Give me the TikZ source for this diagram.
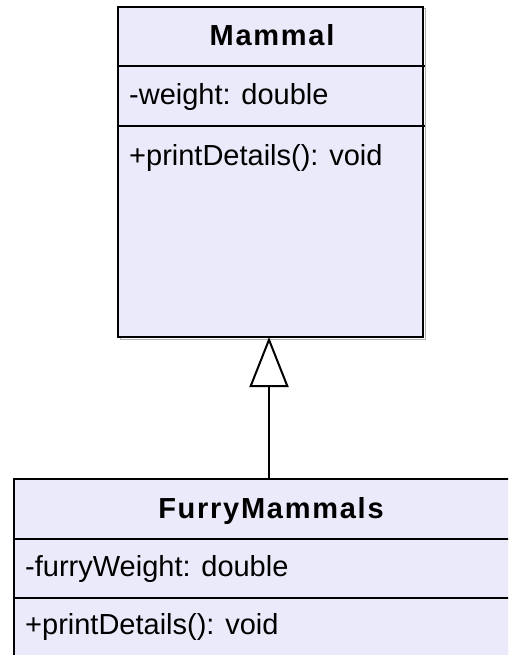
\documentclass[tikz,border=0pt]{standalone}
\usepackage{fontspec}
\setmainfont{Liberation Sans}
\usetikzlibrary{arrows.meta}
\definecolor{classfill}{RGB}{234,234,250}
\tikzset{
  classbox/.style={draw=black, fill=classfill, line width=2pt, rectangle, inner sep=0pt},
  shadowbox/.style={draw=black!30, line width=1pt},
  sepline/.style={draw=black, line width=2pt},
  member/.style={anchor=base west, inner sep=0pt, font=\fontsize{29}{35}\selectfont},
  title/.style={anchor=base, inner sep=0pt, font=\fontsize{29}{35}\selectfont\bfseries\addfontfeature{LetterSpace=6}},
  inherit/.style={draw=black, line width=2pt, -{Triangle[open, length=50pt, width=39pt, fill=white]}}
}
\begin{document}
\begin{tikzpicture}[x=1pt, y=-1pt]
\useasboundingbox (0,0) rectangle (508,655);
\clip (0,0) rectangle (508,655);
% Mammal
\draw[shadowbox] (120,9) rectangle (425,339);
\node[classbox, minimum width=305pt, minimum height=330pt] (mammal) at (270.5,172) {};
\draw[sepline] (118,66) -- (425,66);
\draw[sepline] (118,126) -- (425,126);
\node[title] (mtitle) at (272,46) {Mammal};
\node[member] (mattr) at (129,105) {-weight: double};
\node[member] (mmeth) at (129,165) {+printDetails(): void};
% FurryMammals
\node[classbox, minimum width=514pt, minimum height=221pt] (furry) at (271,589.5) {};
\draw[sepline] (14,539) -- (528,539);
\draw[sepline] (14,598) -- (528,598);
\node[title] (ftitle) at (271,518) {FurryMammals};
\node[member] (fattr) at (25,576) {-furryWeight: double};
\node[member] (fmeth) at (25,634) {+printDetails(): void};
% inheritance
\coordinate (fa) at (269,479);
\coordinate (ma) at (269,337);
\draw[inherit] (fa) -- (ma);
\end{tikzpicture}
\end{document}
